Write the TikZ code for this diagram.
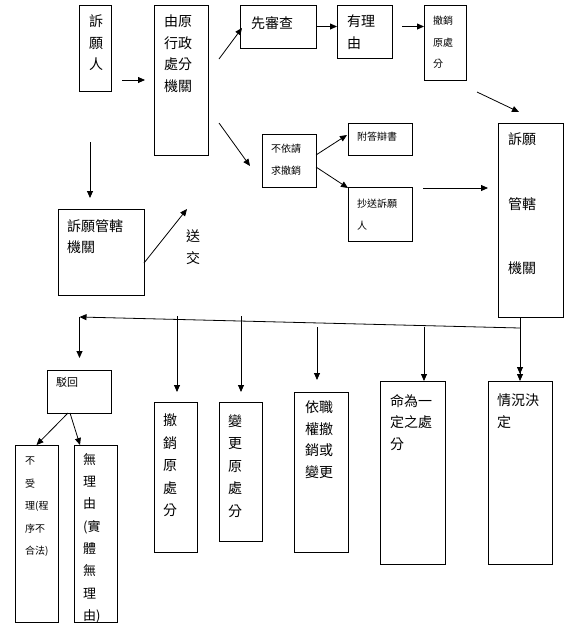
\documentclass[tikz,border=0pt]{standalone}
\usepackage{fontspec}
\newfontfamily\cjk{Noto Sans CJK TC}
\usetikzlibrary{arrows.meta,calc}

\begin{document}
\begin{tikzpicture}[
    x=1pt, y=-1pt,
    every node/.style={font=\cjk},
    box/.style={rectangle, draw, line width=0.9pt, anchor=north west, inner sep=0pt, outer sep=0pt},
    txt/.style={anchor=north west, inner sep=0pt, align=left, font=\cjk\fontsize{14}{21.5}\selectfont},
    talltxt/.style={txt, font=\cjk\fontsize{14}{22.5}\selectfont},
    smalltxt/.style={txt, font=\cjk\fontsize{10}{21.5}\selectfont},
    arrow/.style={-{Triangle[length=7pt,width=6pt]}, line width=0.8pt},
    arrowtwo/.style={-{Triangle[length=7pt,width=6pt] Triangle[length=7pt,width=6pt]}, line width=0.8pt}
  ]
    \useasboundingbox (0,0) rectangle (580,625);

    % boxes
    \node[box, minimum width=32pt, minimum height=86pt] (petitioner) at (79,5) {};
    \node[box, minimum width=54pt, minimum height=150pt] (origin) at (154,5) {};
    \node[box, minimum width=76pt, minimum height=43pt] (check) at (240,5) {};
    \node[box, minimum width=55pt, minimum height=53pt] (reason) at (337,5) {};
    \node[box, minimum width=42pt, minimum height=75pt] (revoke1) at (424,5) {};
    \node[box, minimum width=65pt, minimum height=194pt] (review) at (498,123) {};
    \node[box, minimum width=54pt, minimum height=53pt] (notrev) at (262,134) {};
    \node[box, minimum width=64pt, minimum height=32pt] (reply) at (348,123) {};
    \node[box, minimum width=64pt, minimum height=54pt] (copy) at (348,187) {};
    \node[box, minimum width=86pt, minimum height=86pt] (agency) at (58,209) {};
    \node[box, minimum width=64pt, minimum height=43pt] (reject) at (47,370) {};
    \node[box, minimum width=43pt, minimum height=177pt] (notacc) at (15,445) {};
    \node[box, minimum width=43pt, minimum height=177pt] (noreason) at (74,445) {};
    \node[box, minimum width=43pt, minimum height=150pt] (revoke2) at (154,402) {};
    \node[box, minimum width=43pt, minimum height=139pt] (change) at (219,402) {};
    \node[box, minimum width=54pt, minimum height=160pt] (authority) at (294,392) {};
    \node[box, minimum width=65pt, minimum height=183pt] (order) at (380,381) {};
    \node[box, minimum width=64pt, minimum height=183pt] (circ) at (488,381) {};

    % texts
    \node[txt] (petitioner-t) at ($(petitioner.north west)+(10,10)$) {訴\\願\\人};
    \node[txt] (origin-t) at ($(origin.north west)+(10,10)$) {由原\\行政\\處分\\機關};
    \node[txt] (check-t) at ($(check.north west)+(11,11)$) {先審查};
    \node[txt] (reason-t) at ($(reason.north west)+(10,10)$) {有理\\由};
    \node[smalltxt] (revoke1-t) at ($(revoke1.north west)+(9,11)$) {撤銷\\原處\\分};
    \node[txt] (review-t) at ($(review.north west)+(10,10)$) {訴願\\[43pt]管轄\\[43pt]機關};
    \node[smalltxt] (notrev-t) at ($(notrev.north west)+(9,10)$) {不依請\\求撤銷};
    \node[smalltxt] (reply-t) at ($(reply.north west)+(9,9)$) {附答辯書};
    \node[smalltxt] (copy-t) at ($(copy.north west)+(9,12)$) {抄送訴願\\人};
    \node[txt] (agency-t) at ($(agency.north west)+(9,10)$) {訴願管轄\\機關};
    \node[txt] (sendlbl) at ($(agency.east)+(42,-22)$) {送\\交};
    \node[smalltxt, font=\cjk\fontsize{11}{21.5}\selectfont] (reject-t) at ($(reject.north west)+(9,7)$) {駁回};
    \node[smalltxt, font=\cjk\fontsize{10}{22.5}\selectfont] (notacc-t) at ($(notacc.north west)+(10,12)$) {不\\受\\理(程\\序不\\合法)};
    \node[txt, font=\cjk\fontsize{13}{22.3}\selectfont] (noreason-t) at ($(noreason.north west)+(9,8)$) {無\\理\\由\\(實\\體\\無\\理\\由)};
    \node[talltxt] (revoke2-t) at ($(revoke2.north west)+(9,12)$) {撤\\銷\\原\\處\\分};
    \node[talltxt] (change-t) at ($(change.north west)+(9,12)$) {變\\更\\原\\處\\分};
    \node[txt] (authority-t) at ($(authority.north west)+(11,9)$) {依職\\權撤\\銷或\\變更};
    \node[txt] (order-t) at ($(order.north west)+(10,13)$) {命為一\\定之處\\分};
    \node[txt] (circ-t) at ($(circ.north west)+(9,13)$) {情況決\\定};

    % upper connectors
    \draw[arrow] ($(petitioner.east |- origin.west)+(11,0)$) -- ($(origin.west)+(-9,0)$);
    \draw[arrow] ($(origin.north east)+(11,54)$) -- ($(check.south west)+(2,-20)$);
    \draw[arrow] (check.east) -- (check.east -| reason.west);
    \draw[arrow] ($(check.east -| reason.east)+(10,0)$) -- (check.east -| revoke1.west);
    \draw[arrow] ($(revoke1.south east)+(11,12)$) -- ($(review.north)+(-11.5,-11)$);
    \draw[arrow] ($(origin.north east)+(11,118)$) -- ($(notrev.west)+(-12,5.5)$);
    \draw[arrow] ($(notrev.east)+(0,-5.5)$) -- ($(reply.west)+(-1,-4)$);
    \draw[arrow] ($(notrev.east)+(0,6.5)$) -- ($(copy.north west)+(0,1)$);
    \draw[arrow] ($(copy.north east)+(11,1)$) -- ($(copy.north east -| review.west)+(-10,1)$);
    \coordinate (cursor) at (90,142);
    \draw[arrow] (cursor) -- ($(agency.north west)+(32,-11)$);
    \draw[arrow] ($(agency.east)+(0,11)$) -- ($(origin.south)+(6,54)$);

    % lower connectors
    \coordinate (trunkR) at ($(circ.north)+(0,-53)$);
    \coordinate (trunkL) at ($(reject.north)+(0.5,-53)$);
    \draw[arrowtwo] (review.south -| circ.north) -- (circ.north);
    \draw[arrow] (trunkR) -- (trunkL);
    \draw[arrow, shorten >=12pt] (trunkL) -- (trunkL |- reject.north);
    \draw[arrow] ($(revoke2.north)+(1.5,-86)$) -- ($(revoke2.north)+(1.5,-10)$);
    \draw[arrow] ($(change.north)+(0.5,-86)$) -- ($(change.north)+(0.5,-10)$);
    \draw[arrow] ($(authority.north)+(-4,-65)$) -- ($(authority.north)+(-4,-12)$);
    \draw[arrow] ($(order.north)+(11.5,-54)$) -- ($(order.north)+(11.5,0)$);
    \draw[arrow] ($(reject.south)+(-11,0)$) -- (notacc.north);
    \draw[arrow] ($(reject.south)+(-9,0)$) -- ($(noreason.north west)+(6,0)$);
\end{tikzpicture}
\end{document}
